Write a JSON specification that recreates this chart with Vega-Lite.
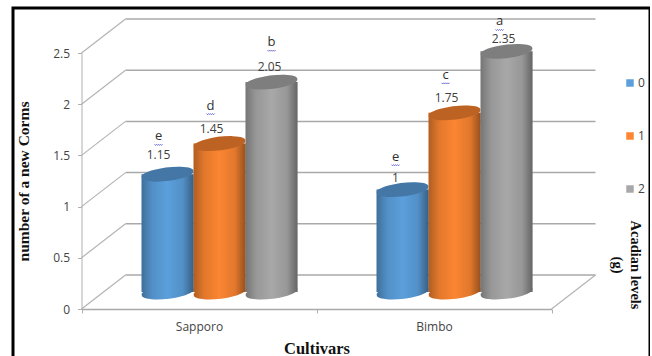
{
  "$schema": "https://vega.github.io/schema/vega-lite/v6.json",
  "width": 637,
  "height": 352,
  "autosize": {"type": "none"},
  "padding": {"left": 13, "top": 8, "right": 0, "bottom": 0},
  "background": "white",
  "view": {"stroke": "#000000", "strokeWidth": 3, "fill": "white"},
  "title": {
    "text": ["Acadian levels", "(g)"],
    "orient": "right",
    "anchor": "middle",
    "font": "Liberation Serif",
    "fontWeight": "bold",
    "fontSize": 14.5,
    "lineHeight": 18,
    "color": "#111111",
    "offset": -26,
    "dx": 81,
    "dy": 15
  },
  "datasets": {
    "walls": [
      {"tick": 0, "from": 0, "to": 1},
      {"tick": 0.5, "from": 0, "to": 1},
      {"tick": 1, "from": 0, "to": 1},
      {"tick": 1.5, "from": 0, "to": 1},
      {"tick": 2, "from": 0, "to": 1},
      {"tick": 2.5, "from": 0, "to": 1}
    ],
    "bars": [
      {"cultivar": "Sapporo", "level": "0", "value": 1.15, "letter": "e"},
      {"cultivar": "Sapporo", "level": "1", "value": 1.45, "letter": "d"},
      {"cultivar": "Sapporo", "level": "2", "value": 2.05, "letter": "b"},
      {"cultivar": "Bimbo", "level": "0", "value": 1, "letter": "e"},
      {"cultivar": "Bimbo", "level": "1", "value": 1.75, "letter": "c"},
      {"cultivar": "Bimbo", "level": "2", "value": 2.35, "letter": "a"}
    ]
  },
  "resolve": {"scale": {"x": "independent"}, "axis": {"x": "independent"}},
  "layer": [
    {
      "data": {"name": "walls"},
      "encoding": {
        "y": {
          "field": "tick",
          "type": "quantitative",
          "scale": {"domain": [0, 2.5], "range": [301, 45], "nice": false},
          "axis": {
            "title": "number of a new Corms",
            "titleFont": "Liberation Serif",
            "titleFontWeight": "bold",
            "titleFontSize": 15.5,
            "titleColor": "#111111",
            "titlePadding": 21,
            "labelFont": "Open Sans",
            "labelFontSize": 12,
            "labelColor": "#444444",
            "labelPadding": 8,
            "format": "~g",
            "values": [0, 0.5, 1, 1.5, 2, 2.5],
            "offset": -68.5,
            "tickSize": 4,
            "tickColor": "#b0b0b0",
            "domainColor": "#b0b0b0",
            "grid": false
          }
        }
      },
      "layer": [
        {
          "mark": {"type": "rule", "color": "#a9a9a9", "strokeWidth": 1.5, "xOffset": 44, "x2Offset": 44, "yOffset": -34},
          "encoding": {
            "x": {"field": "from", "type": "quantitative", "axis": null, "scale": {"domain": [0, 1], "range": [68.5, 538.5]}},
            "x2": {"field": "to"}
          }
        },
        {
          "mark": {"type": "rule", "color": "#b4b4b4", "strokeWidth": 1.2, "x2Offset": 44, "y2Offset": -34},
          "encoding": {
            "x": {"field": "from", "type": "quantitative", "axis": null, "scale": {"domain": [0, 1], "range": [68.5, 538.5]}},
            "x2": {"field": "from"},
            "y2": {"field": "tick"}
          }
        },
        {
          "transform": [{"filter": "datum.tick === 0"}],
          "mark": {"type": "rule", "color": "#b4b4b4", "strokeWidth": 1.2, "x2Offset": 44, "y2Offset": -34},
          "encoding": {
            "x": {"field": "to", "type": "quantitative", "axis": null, "scale": {"domain": [0, 1], "range": [68.5, 538.5]}},
            "x2": {"field": "to"},
            "y2": {"field": "tick"}
          }
        }
      ]
    },
    {
      "data": {"name": "bars"},
      "encoding": {
        "x": {
          "field": "cultivar",
          "type": "nominal",
          "sort": ["Sapporo", "Bimbo"],
          "scale": {"range": [68.5, 538.5], "paddingInner": 0, "paddingOuter": 0},
          "axis": {
            "title": "Cultivars",
            "titleFont": "Liberation Serif",
            "titleFontWeight": "bold",
            "titleFontSize": 16.5,
            "titleColor": "#111111",
            "titlePadding": 8,
            "labelFont": "Open Sans",
            "labelFontSize": 12,
            "labelColor": "#444444",
            "labelAngle": 0,
            "labelPadding": 8,
            "offset": -51,
            "tickBand": "extent",
            "tickSize": 4,
            "tickColor": "#b0b0b0",
            "domainColor": "#a9a9a9",
            "domainWidth": 1.5,
            "grid": false
          }
        },
        "xOffset": {"field": "level", "type": "nominal", "scale": {"paddingInner": 0, "paddingOuter": 0.76, "align": 0.76}},
        "y": {
          "field": "value",
          "type": "quantitative",
          "scale": {"domain": [0, 2.5], "range": [301, 45], "nice": false}
        }
      },
      "layer": [
        {
          "mark": {"type": "point", "shape": "M-0.99,0.12 A1,0.24 -7 1 1 0.99,-0.12 A1,0.24 -7 1 1 -0.99,0.12 Z", "size": 2704, "filled": true, "opacity": 1, "yOffset": -17},
          "encoding": {
            "y": {"datum": 0},
            "color": {"field": "level", "type": "nominal"}
          }
        },
        {
          "mark": {"type": "point", "shape": "M-0.99,0.12 A1,0.24 -7 1 1 0.99,-0.12 A1,0.24 -7 1 1 -0.99,0.12 Z", "size": 2704, "filled": true, "opacity": 1, "yOffset": -17,
            "color": {"gradient": "linear", "x1": 0, "y1": 0, "x2": 1, "y2": 0, "stops": [
              {"offset": 0, "color": "rgba(0,0,0,0.3)"},
              {"offset": 0.2, "color": "rgba(0,0,0,0.1)"},
              {"offset": 0.5, "color": "rgba(0,0,0,0)"},
              {"offset": 0.8, "color": "rgba(0,0,0,0.1)"},
              {"offset": 1, "color": "rgba(0,0,0,0.4)"}
            ]}},
          "encoding": {"y": {"datum": 0}}
        },
        {
          "mark": {"type": "bar", "yOffset": -17, "y2Offset": -17},
          "encoding": {
            "color": {
              "field": "level",
              "type": "nominal",
              "scale": {"domain": ["0", "1", "2"], "range": ["#5b9fdc", "#fb8531", "#a8a8a8"]},
              "legend": {
                "orient": "none",
                "legendX": 611,
                "legendY": 69,
                "title": null,
                "symbolType": "square",
                "symbolSize": 56,
                "symbolOpacity": 1,
                "symbolStrokeWidth": 0,
                "labelFont": "Open Sans",
                "labelFontSize": 12,
                "labelColor": "#444444",
                "labelOffset": 2,
                "rowPadding": 41,
                "encode": {"symbols": {"update": {"stroke": {"value": "transparent"}}}}
              }
            }
          }
        },
        {
          "mark": {"type": "bar", "yOffset": -17, "y2Offset": -17,
            "color": {"gradient": "linear", "x1": 0, "y1": 0, "x2": 1, "y2": 0, "stops": [
              {"offset": 0, "color": "rgba(0,0,0,0.3)"},
              {"offset": 0.2, "color": "rgba(0,0,0,0.1)"},
              {"offset": 0.5, "color": "rgba(0,0,0,0)"},
              {"offset": 0.8, "color": "rgba(0,0,0,0.1)"},
              {"offset": 1, "color": "rgba(0,0,0,0.4)"}
            ]}}
        },
        {
          "mark": {"type": "point", "shape": "M-0.99,0.12 A1,0.24 -7 1 1 0.99,-0.12 A1,0.24 -7 1 1 -0.99,0.12 Z", "size": 2704, "filled": true, "opacity": 1, "yOffset": -17},
          "encoding": {"color": {"field": "level", "type": "nominal"}}
        },
        {
          "mark": {"type": "point", "shape": "M-0.99,0.12 A1,0.24 -7 1 1 0.99,-0.12 A1,0.24 -7 1 1 -0.99,0.12 Z", "size": 2704, "filled": true, "opacity": 0.25, "color": "#000000", "yOffset": -17}
        },
        {
          "transform": [{"filter": "datum.value === 1.15"}],
          "mark": {"type": "text", "font": "Open Sans", "fontSize": 12, "color": "#404040", "dx": -9, "yOffset": -36, "baseline": "middle"},
          "encoding": {"text": {"field": "value", "type": "quantitative", "format": ".3~g"}}
        },
        {
          "transform": [{"filter": "datum.value === 1.45 || datum.value === 1.75"}],
          "mark": {"type": "text", "font": "Open Sans", "fontSize": 12, "color": "#404040", "dx": -8, "yOffset": -32, "baseline": "middle"},
          "encoding": {"text": {"field": "value", "type": "quantitative", "format": ".3~g"}}
        },
        {
          "transform": [{"filter": "datum.value === 2.05"}],
          "mark": {"type": "text", "font": "Open Sans", "fontSize": 12, "color": "#404040", "dx": -2, "yOffset": -32, "baseline": "middle"},
          "encoding": {"text": {"field": "value", "type": "quantitative", "format": ".3~g"}}
        },
        {
          "transform": [{"filter": "datum.value === 1"}],
          "mark": {"type": "text", "font": "Open Sans", "fontSize": 12, "color": "#404040", "dx": -7, "yOffset": -29, "baseline": "middle"},
          "encoding": {"text": {"field": "value", "type": "quantitative", "format": ".3~g"}}
        },
        {
          "transform": [{"filter": "datum.value === 2.35"}],
          "mark": {"type": "text", "font": "Open Sans", "fontSize": 12, "color": "#404040", "dx": -3, "yOffset": -29, "baseline": "middle"},
          "encoding": {"text": {"field": "value", "type": "quantitative", "format": ".3~g"}}
        },
        {
          "transform": [{"filter": "datum.value === 1.15 || datum.value === 1.45 || datum.value === 1.75"}],
          "layer": [
            {
              "mark": {"type": "text", "font": "Open Sans", "fontSize": 13, "color": "#303030", "dx": -9, "yOffset": -55, "baseline": "middle"},
              "encoding": {"text": {"field": "letter", "type": "nominal"}}
            },
            {
              "mark": {"type": "point", "shape": "M-3.25,0 L-3,0.3 L-2.75,0 L-2.5,0.3 L-2.25,0 L-2,0.3 L-1.75,0 L-1.5,0.3 L-1.25,0", "size": 64, "filled": false, "opacity": 0.9, "color": "#4a4ad0", "strokeWidth": 0.8, "yOffset": -47}
            }
          ]
        },
        {
          "transform": [{"filter": "datum.value === 2.05"}],
          "layer": [
            {
              "mark": {"type": "text", "font": "Open Sans", "fontSize": 13, "color": "#303030", "yOffset": -57, "baseline": "middle"},
              "encoding": {"text": {"field": "letter", "type": "nominal"}}
            },
            {
              "mark": {"type": "point", "shape": "M-1,0 L-0.75,0.3 L-0.5,0 L-0.25,0.3 L0,0 L0.25,0.3 L0.5,0 L0.75,0.3 L1,0", "size": 64, "filled": false, "opacity": 0.9, "color": "#4a4ad0", "strokeWidth": 0.8, "yOffset": -49}
            }
          ]
        },
        {
          "transform": [{"filter": "datum.value === 1"}],
          "layer": [
            {
              "mark": {"type": "text", "font": "Open Sans", "fontSize": 13, "color": "#303030", "dx": -7, "yOffset": -50, "baseline": "middle"},
              "encoding": {"text": {"field": "letter", "type": "nominal"}}
            },
            {
              "mark": {"type": "point", "shape": "M-2.75,0 L-2.5,0.3 L-2.25,0 L-2,0.3 L-1.75,0 L-1.5,0.3 L-1.25,0 L-1,0.3 L-0.75,0", "size": 64, "filled": false, "opacity": 0.9, "color": "#4a4ad0", "strokeWidth": 0.8, "yOffset": -42}
            }
          ]
        },
        {
          "transform": [{"filter": "datum.value === 2.35"}],
          "layer": [
            {
              "mark": {"type": "text", "font": "Open Sans", "fontSize": 13, "color": "#303030", "dx": -7, "yOffset": -47, "baseline": "middle"},
              "encoding": {"text": {"field": "letter", "type": "nominal"}}
            },
            {
              "mark": {"type": "point", "shape": "M-2.75,0 L-2.5,0.3 L-2.25,0 L-2,0.3 L-1.75,0 L-1.5,0.3 L-1.25,0 L-1,0.3 L-0.75,0", "size": 64, "filled": false, "opacity": 0.9, "color": "#4a4ad0", "strokeWidth": 0.8, "yOffset": -39}
            }
          ]
        }
      ]
    }
  ]
}
